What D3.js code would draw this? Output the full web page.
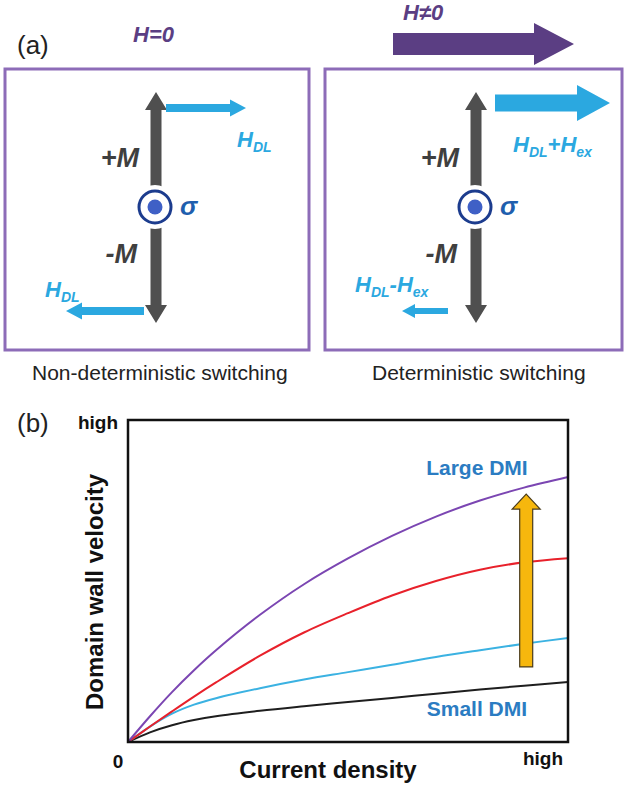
<!DOCTYPE html>
<html>
<head>
<meta charset="utf-8">
<script src="https://cdn.jsdelivr.net/npm/d3@7"></script>
<style>
  body { margin: 0; background: #fff; }
  svg { display: block; font-family: "Liberation Sans", Arial, sans-serif; }
</style>
</head>
<body>
<div id="figure"></div>
<script>
  // panel (b) curves (fraction of the frame, 0..1)
  const currentDensity = [0, 0.05, 0.1, 0.15, 0.2, 0.3, 0.4, 0.5, 0.6, 0.7, 0.8, 0.9, 1.0]
  const velLarge = [0, 0.08, 0.155, 0.223, 0.285, 0.395, 0.49, 0.57, 0.64, 0.70, 0.75, 0.79, 0.823]
  const velRed = [0, 0.048, 0.095, 0.141, 0.185, 0.268, 0.34, 0.40, 0.455, 0.50, 0.535, 0.558, 0.571]
  const velCyan = [0, 0.048, 0.088, 0.116, 0.136, 0.167, 0.194, 0.217, 0.24, 0.264, 0.285, 0.305, 0.323]
  const velSmall = [0, 0.03, 0.052, 0.068, 0.08, 0.097, 0.111, 0.124, 0.137, 0.15, 0.163, 0.175, 0.186]
  const curveColors = ['#7b46b2', '#e8212b', '#3bb2e2', '#1e1e1e']
  const xTickLabels = ['0', 'high']
  const yTickLabels = ['high']

  const width = 627
  const height = 787

  const svg = d3.select('#figure').append('svg')
    .attr('width', width)
    .attr('height', height)

  // polygon for a straight arrow, optional head at the start too
  function arrowPath(x1, y1, x2, y2, shaft, headW, headL, both) {
    const len = Math.hypot(x2 - x1, y2 - y1)
    const ux = (x2 - x1) / len, uy = (y2 - y1) / len
    const px = -uy, py = ux
    const p = (t, s) => [x1 + ux * t + px * s, y1 + uy * t + py * s]
    const s = shaft / 2, h = headW / 2
    const a = both ? headL : 0
    const pts = both
      ? [p(0, 0), p(a, h), p(a, s), p(len - headL, s), p(len - headL, h), p(len, 0),
         p(len - headL, -h), p(len - headL, -s), p(a, -s), p(a, -h)]
      : [p(0, s), p(len - headL, s), p(len - headL, h), p(len, 0),
         p(len - headL, -h), p(len - headL, -s), p(0, -s)]
    return 'M' + pts.map(d => d.join(',')).join('L') + 'Z'
  }

  function subText(g, x, y, parts, color) {
    const t = g.append('text')
      .attr('x', x).attr('y', y)
      .attr('fill', color)
      .style('font-weight', 'bold')
      .style('font-style', 'italic')
    let sub = false
    parts.forEach(([str, isSub]) => {
      const dy = isSub && !sub ? 5 : (!isSub && sub ? -5 : 0)
      t.append('tspan').attr('dy', dy)
        .style('font-size', isSub ? '14px' : '22px')
        .text(str)
      sub = isSub
    })
  }

  // ---------- panel (a) ----------
  const purpleBox = '#8d6cb8'
  const darkPurple = '#5b3e83'
  const cyan = '#2ba8e0'
  const gray = '#4f4f4f'

  svg.append('text').attr('x', 17).attr('y', 54)
    .style('font-size', '26px').attr('fill', '#222').text('(a)')

  const panels = [
    { x0: 5, x1: 309, cx: 156, field: 'H=0', caption: 'Non-deterministic switching', capX: 32 },
    { x0: 325, x1: 622, cx: 476, field: 'H\u22600', caption: 'Deterministic switching', capX: 372 }
  ]

  panels.forEach((p, i) => {
    const g = svg.append('g')
    g.append('rect')
      .attr('x', p.x0).attr('y', 69)
      .attr('width', p.x1 - p.x0).attr('height', 281)
      .attr('fill', 'none').attr('stroke', purpleBox).attr('stroke-width', 3)

    g.append('path')
      .attr('d', arrowPath(p.cx, 92, p.cx, 323, 11, 22, 18, true))
      .attr('fill', gray)

    g.append('circle').attr('cx', p.cx - 1).attr('cy', 207).attr('r', 22).attr('fill', '#fff')
    g.append('circle').attr('cx', p.cx - 1).attr('cy', 207).attr('r', 16)
      .attr('fill', 'none').attr('stroke', '#1c3c8e').attr('stroke-width', 3)
    g.append('circle').attr('cx', p.cx - 1).attr('cy', 207).attr('r', 7.5).attr('fill', '#3f60c6')

    g.append('text').attr('x', p.cx + 24).attr('y', 215)
      .style('font-size', '26px').style('font-weight', 'bold').style('font-style', 'italic')
      .attr('fill', '#1f5fae').text('\u03c3')

    g.append('text').attr('x', p.cx - 17).attr('y', 167).attr('text-anchor', 'end')
      .style('font-size', '27px').style('font-weight', 'bold').style('font-style', 'italic')
      .attr('fill', '#3f3f3f').text('+M')
    g.append('text').attr('x', p.cx - 19).attr('y', 263).attr('text-anchor', 'end')
      .style('font-size', '27px').style('font-weight', 'bold').style('font-style', 'italic')
      .attr('fill', '#3f3f3f').text('-M')

    g.append('text').attr('x', i === 0 ? 133 : 403).attr('y', i === 0 ? 42 : 20)
      .style('font-size', '22px').style('font-weight', 'bold').style('font-style', 'italic')
      .attr('fill', darkPurple).text(p.field)

    g.append('text').attr('x', p.capX).attr('y', 380)
      .style('font-size', '21px').attr('fill', '#222').text(p.caption)
  })

  // field arrows
  svg.append('path').attr('d', arrowPath(393, 44, 574, 44, 22, 42, 40)).attr('fill', darkPurple)
  svg.append('path').attr('d', arrowPath(166, 108, 246, 108, 8, 17, 16)).attr('fill', cyan)
  svg.append('path').attr('d', arrowPath(144, 311, 66, 311, 8, 17, 16)).attr('fill', cyan)
  svg.append('path').attr('d', arrowPath(495, 103, 610, 103, 17, 36, 33)).attr('fill', cyan)
  svg.append('path').attr('d', arrowPath(448, 311, 402, 311, 6, 14, 13)).attr('fill', cyan)

  subText(svg, 237, 147, [['H', false], ['DL', true]], cyan)
  subText(svg, 45, 297, [['H', false], ['DL', true]], cyan)
  subText(svg, 513, 152, [['H', false], ['DL', true], ['+H', false], ['ex', true]], cyan)
  subText(svg, 355, 292, [['H', false], ['DL', true], ['-H', false], ['ex', true]], cyan)

  // ---------- panel (b) ----------
  const x = d3.scaleLinear().domain([0, 1]).range([128, 568])
  const y = d3.scaleLinear().domain([0, 1]).range([742, 420])

  svg.append('text').attr('x', 17).attr('y', 432)
    .style('font-size', '26px').attr('fill', '#222').text('(b)')

  const line = d3.line()
    .x((d, i) => x(currentDensity[i]))
    .y(d => y(d))
    .curve(d3.curveCatmullRom.alpha(0.5))

  svg.selectAll('path.curve')
    .data([velSmall, velCyan, velRed, velLarge])
    .join('path')
    .attr('class', 'curve')
    .attr('d', line)
    .attr('fill', 'none')
    .attr('stroke', (d, i) => curveColors[3 - i])
    .attr('stroke-width', 2)

  svg.append('rect')
    .attr('x', x(0)).attr('y', y(1))
    .attr('width', x(1) - x(0)).attr('height', y(0) - y(1))
    .attr('fill', 'none').attr('stroke', '#111').attr('stroke-width', 2.5)

  // yellow "increasing DMI" arrow
  svg.append('path')
    .attr('d', arrowPath(x(0.905), y(0.233), x(0.905), y(0.77), 13, 28, 15))
    .attr('fill', '#f6b70d').attr('stroke', '#4a3c1c').attr('stroke-width', 1.2)

  svg.append('text').attr('x', x(0.793)).attr('y', y(0.829))
    .attr('text-anchor', 'middle')
    .style('font-size', '21px').style('font-weight', 'bold')
    .attr('fill', '#2b7cc2').text('Large DMI')
  svg.append('text').attr('x', x(0.793)).attr('y', y(0.081))
    .attr('text-anchor', 'middle')
    .style('font-size', '21px').style('font-weight', 'bold')
    .attr('fill', '#2b7cc2').text('Small DMI')

  // tick-ish labels
  svg.append('text').attr('x', x(0) - 10).attr('y', 768)
    .attr('text-anchor', 'middle')
    .style('font-size', '19px').style('font-weight', 'bold')
    .attr('fill', '#111').text(xTickLabels[0])
  svg.append('text').attr('x', x(1) - 5).attr('y', 765)
    .attr('text-anchor', 'end')
    .style('font-size', '19px').style('font-weight', 'bold')
    .attr('fill', '#111').text(xTickLabels[1])
  svg.append('text').attr('x', x(0) - 10).attr('y', y(1) + 9)
    .attr('text-anchor', 'end')
    .style('font-size', '19px').style('font-weight', 'bold')
    .attr('fill', '#111').text(yTickLabels[0])

  svg.append('text').attr('x', 328).attr('y', 778)
    .attr('text-anchor', 'middle')
    .style('font-size', '24px').style('font-weight', 'bold')
    .attr('fill', '#111').text('Current density')

  svg.append('text')
    .attr('transform', 'translate(103,592) rotate(-90)')
    .attr('text-anchor', 'middle')
    .style('font-size', '24px').style('font-weight', 'bold')
    .attr('fill', '#111').text('Domain wall velocity')
</script>
</body>
</html>
